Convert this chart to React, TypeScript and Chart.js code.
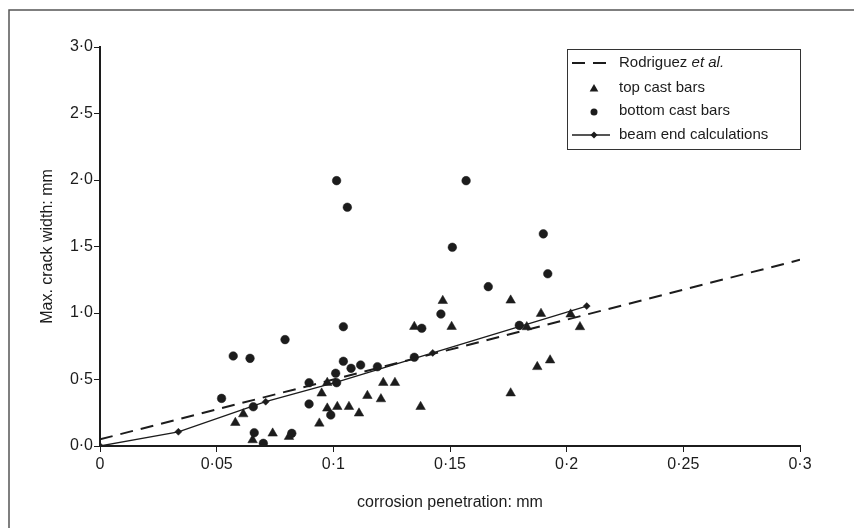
import { useEffect, useRef } from 'react';
import { Chart, registerables } from 'chart.js';

Chart.register(...registerables);

const xTickLabels = ['0', '0·05', '0·1', '0·15', '0·2', '0·25', '0·3'];
const yTickLabels = ['0·0', '0·5', '1·0', '1·5', '2·0', '2·5', '3·0'];

const rodriguezX = [0, 0.3];
const rodriguezY = [0.05, 1.4];

const topCastX = [0.058, 0.0614, 0.0654, 0.074, 0.081, 0.094, 0.095, 0.0974, 0.0974, 0.1017, 0.1067, 0.111, 0.1146, 0.1204, 0.1214, 0.1264, 0.1347, 0.1374, 0.1469, 0.1507, 0.176, 0.176, 0.1829, 0.1874, 0.189, 0.1929, 0.2017, 0.2057];
const topCastY = [0.175, 0.24, 0.045, 0.095, 0.07, 0.17, 0.396, 0.283, 0.476, 0.295, 0.295, 0.246, 0.378, 0.353, 0.476, 0.476, 0.897, 0.295, 1.092, 0.897, 1.095, 0.397, 0.895, 0.595, 0.995, 0.645, 0.99, 0.895];

const bottomCastX = [0.0521, 0.0571, 0.0643, 0.0657, 0.0661, 0.07, 0.0793, 0.0822, 0.0896, 0.0896, 0.0989, 0.101, 0.1014, 0.1014, 0.1043, 0.1043, 0.106, 0.1076, 0.1117, 0.1189, 0.1347, 0.1379, 0.1461, 0.151, 0.1569, 0.1664, 0.1797, 0.19, 0.1919];
const bottomCastY = [0.358, 0.677, 0.659, 0.295, 0.1, 0.02, 0.8, 0.095, 0.476, 0.316, 0.233, 0.547, 1.995, 0.476, 0.897, 0.637, 1.795, 0.584, 0.609, 0.596, 0.667, 0.885, 0.992, 1.494, 1.995, 1.198, 0.907, 1.595, 1.295];

const beamEndX = [0, 0.0336, 0.071, 0.1014, 0.1426, 0.18, 0.2086];
const beamEndY = [0, 0.107, 0.333, 0.48, 0.7, 0.9, 1.052];

const seriesNames = ['Rodriguez et al.', 'top cast bars', 'bottom cast bars', 'beam end calculations'];

const INK = '#1c1c1c';
const FONT = '"Liberation Sans", Arial, sans-serif';

const pts = (xs: number[], ys: number[]) => xs.map((x, i) => ({ x, y: ys[i] }));

const framePlugin = {
  id: 'frame',
  beforeDraw(chart: any) {
    const ctx = chart.ctx;
    ctx.save();
    ctx.fillStyle = '#ffffff';
    ctx.fillRect(0, 0, chart.width, chart.height);
    ctx.strokeStyle = '#555555';
    ctx.lineWidth = 1.5;
    ctx.strokeRect(9, 10, 1000, 1000);
    ctx.restore();
  },
};

const legendPlugin = {
  id: 'boxLegend',
  afterDraw(chart: any) {
    const ctx = chart.ctx;
    const area = chart.chartArea;
    const left = 567;
    const top = 49;
    const right = area.right;
    const bottom = 149;
    ctx.save();
    ctx.strokeStyle = '#333333';
    ctx.lineWidth = 1;
    ctx.strokeRect(left + 0.5, top + 0.5, right - left, bottom - top);
    const rowY = [63, 88, 111, 135];
    const symL = 572;
    const symR = 610;
    const symC = 594;
    const textX = 619;
    ctx.font = `15px ${FONT}`;
    ctx.fillStyle = INK;
    ctx.textBaseline = 'middle';
    ctx.textAlign = 'left';
    // Rodriguez
    const ds = chart.data.datasets;
    ctx.strokeStyle = INK;
    ctx.lineWidth = 2;
    ctx.setLineDash(ds[0].borderDash);
    ctx.beginPath();
    ctx.moveTo(symL, rowY[0]);
    ctx.lineTo(symR, rowY[0]);
    ctx.stroke();
    ctx.setLineDash([]);
    const name0 = seriesNames[0].replace(' et al.', ' ');
    ctx.fillText(name0, textX, rowY[0]);
    const w0 = ctx.measureText(name0).width;
    ctx.font = `italic 15px ${FONT}`;
    ctx.fillText('et al.', textX + w0, rowY[0]);
    ctx.font = `15px ${FONT}`;
    // markers
    const drawMarker = (style: string, r: number, x: number, y: number) => {
      ctx.beginPath();
      if (style === 'triangle') {
        for (let k = 0; k < 3; k++) {
          const a = (k * 2 * Math.PI) / 3;
          const px = x + Math.sin(a) * r;
          const py = y - Math.cos(a) * r;
          if (k === 0) ctx.moveTo(px, py);
          else ctx.lineTo(px, py);
        }
        ctx.closePath();
      } else if (style === 'rectRot') {
        ctx.moveTo(x, y - r);
        ctx.lineTo(x + r, y);
        ctx.lineTo(x, y + r);
        ctx.lineTo(x - r, y);
        ctx.closePath();
      } else {
        ctx.arc(x, y, r, 0, Math.PI * 2);
      }
      ctx.fillStyle = INK;
      ctx.fill();
    };
    drawMarker('triangle', 5, symC, rowY[1] + 1);
    ctx.fillStyle = INK;
    ctx.fillText(seriesNames[1], textX, rowY[1]);
    drawMarker('circle', 3.5, symC, rowY[2] + 1);
    ctx.fillStyle = INK;
    ctx.fillText(seriesNames[2], textX, rowY[2]);
    ctx.strokeStyle = INK;
    ctx.lineWidth = 1.3;
    ctx.beginPath();
    ctx.moveTo(symL, rowY[3]);
    ctx.lineTo(symR, rowY[3]);
    ctx.stroke();
    drawMarker('rectRot', 3.5, symC, rowY[3]);
    ctx.fillStyle = INK;
    ctx.fillText(seriesNames[3], textX, rowY[3]);
    ctx.restore();
  },
};

export default function App() {
  const ref = useRef<HTMLCanvasElement | null>(null);

  useEffect(() => {
    if (!ref.current) return;
    const chart = new Chart(ref.current, {
      type: 'scatter',
      data: {
        datasets: [
          {
            label: seriesNames[0],
            data: pts(rodriguezX, rodriguezY),
            showLine: true,
            borderColor: INK,
            borderWidth: 2,
            borderDash: [13, 8],
            pointRadius: 0,
            fill: false,
          },
          {
            label: seriesNames[1],
            data: pts(topCastX, topCastY),
            pointStyle: 'triangle',
            pointRadius: 5.5,
            backgroundColor: INK,
            borderColor: INK,
            borderWidth: 0.5,
            showLine: false,
          },
          {
            label: seriesNames[2],
            data: pts(bottomCastX, bottomCastY),
            pointStyle: 'circle',
            pointRadius: 4.3,
            backgroundColor: INK,
            borderColor: INK,
            borderWidth: 0.5,
            showLine: false,
          },
          {
            label: seriesNames[3],
            data: pts(beamEndX, beamEndY),
            showLine: true,
            borderColor: INK,
            borderWidth: 1.3,
            pointStyle: 'rectRot',
            pointRadius: 3.5,
            backgroundColor: INK,
            pointBackgroundColor: INK,
            pointBorderColor: INK,
            pointBorderWidth: 0.5,
            fill: false,
          },
        ],
      },
      options: {
        animation: false,
        responsive: false,
        devicePixelRatio: 1,
        layout: { padding: { left: 35, right: 54, top: 47, bottom: 12 } },
        plugins: {
          legend: { display: false },
          tooltip: { enabled: false },
        },
        scales: {
          x: {
            type: 'linear',
            min: 0,
            max: 0.3,
            afterFit: (scale: any) => {
              scale.height = 70;
            },
            ticks: {
              stepSize: 0.05,
              padding: 3,
              color: INK,
              font: { family: FONT, size: 16 },
              maxRotation: 0,
              callback: (_v: any, i: number) => xTickLabels[i],
            },
            grid: {
              display: true,
              drawOnChartArea: false,
              drawTicks: true,
              tickLength: 6,
              color: INK,
              lineWidth: 1,
            },
            border: { display: true, color: INK, width: 2 },
            title: {
              display: true,
              text: 'corrosion penetration: mm',
              color: INK,
              font: { family: FONT, size: 16 },
              padding: { top: 4, bottom: 4 },
            },
          },
          y: {
            type: 'linear',
            min: 0,
            max: 3,
            afterFit: (scale: any) => {
              scale.width = 65;
            },
            ticks: {
              stepSize: 0.5,
              padding: 1,
              color: INK,
              font: { family: FONT, size: 16 },
              callback: (_v: any, i: number) => yTickLabels[i],
            },
            grid: {
              display: true,
              drawOnChartArea: false,
              drawTicks: true,
              tickLength: 6,
              color: INK,
              lineWidth: 1,
            },
            border: { display: true, color: INK, width: 2 },
            title: {
              display: true,
              text: 'Max. crack width: mm',
              color: INK,
              font: { family: FONT, size: 16 },
              padding: { top: 3, bottom: 3 },
            },
          },
        },
      },
      plugins: [framePlugin, legendPlugin],
    } as any);
    return () => chart.destroy();
  }, []);

  return (
    <div style={{ position: 'fixed', left: 0, top: 0, width: 854, height: 528, background: '#fff' }}>
      <canvas ref={ref} width={854} height={528} style={{ width: 854, height: 528, display: 'block' }} />
    </div>
  );
}
